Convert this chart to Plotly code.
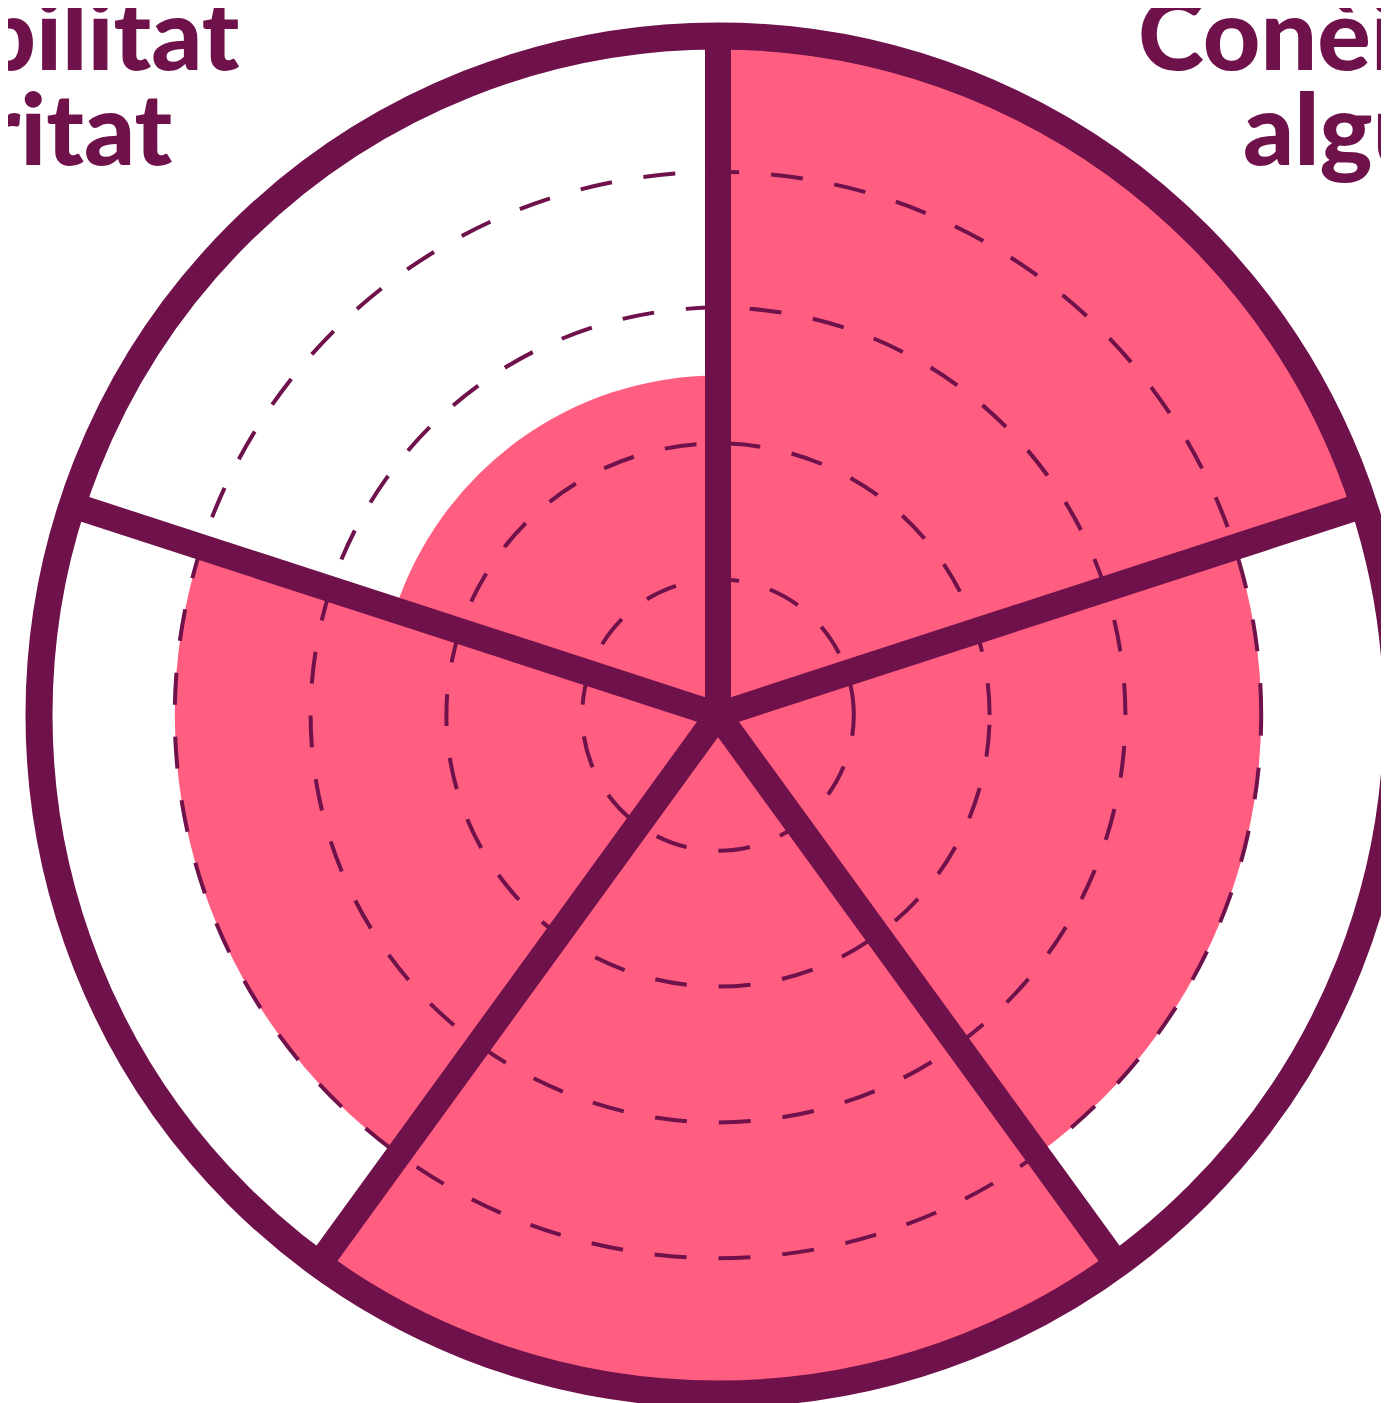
import plotly.graph_objects as go

# ---- data ----
categories = ["Conèixer algú", "Categoria 2", "Categoria 3", "Categoria 4", "Credibilitat i autoritat"]
theta_deg = [36, 108, 180, 252, 324]          # sector centres (clockwise from top)
values = [5, 4, 5, 4, 2.5]
sector_width = [72, 72, 72, 72, 72]
grid_levels = [1, 2, 3, 4]
sector_bounds = [0, 72, 144, 216, 288]
r_max = 5
label_lines = {"Conèixer algú": ["Conèixer", "algú"],
               "Credibilitat i autoritat": ["Credibilitat", "i autoritat"]}

PINK = "#ff5e81"
PURPLE = "#6f114a"

W, H = 1389, 1403
cx, cy, R = 710, 707, 679

fig = go.Figure()
fig.add_trace(go.Barpolar(
    r=values, theta=theta_deg, width=sector_width,
    marker=dict(color=PINK, line=dict(width=0)),
    text=categories, hoverinfo="text+r", subplot="polar",
))
# invisible trace so the overlay subplot (grid + outline) is created
fig.add_trace(go.Scatterpolar(
    r=[0], theta=[0], mode="markers", marker=dict(opacity=0),
    hoverinfo="skip", showlegend=False, subplot="polar2",
))

dom_x = [(cx - R) / W, min(1, (cx + R) / W)]
dom_y = [(H - cy - R) / H, (H - cy + R) / H]

common_radial = dict(range=[0, r_max], showticklabels=False, ticks="", showline=False)
fig.update_layout(
    width=W, height=H,
    margin=dict(l=0, r=0, t=0, b=0),
    paper_bgcolor="white",
    showlegend=False,
    polar=dict(
        domain=dict(x=dom_x, y=dom_y),
        bgcolor="white",
        bargap=0,
        radialaxis=dict(**common_radial, showgrid=False),
        angularaxis=dict(type="linear", rotation=90, direction="clockwise",
                         showgrid=False, showline=False, showticklabels=False, ticks=""),
    ),
    polar2=dict(
        domain=dict(x=dom_x, y=dom_y),
        bgcolor="rgba(0,0,0,0)",
        radialaxis=dict(**common_radial, showgrid=True, tickvals=grid_levels,
                        gridcolor=PURPLE, gridwidth=3.5, griddash="32px,32px"),
        angularaxis=dict(type="linear", rotation=90, direction="clockwise",
                         tickvals=sector_bounds, showticklabels=False, ticks="",
                         showgrid=True, gridcolor=PURPLE, gridwidth=26,
                         showline=True, linecolor=PURPLE, linewidth=27),
    ),
)

# category labels (two tightly-spaced lines each)
label_font = dict(family="Lato", size=100, color=PURPLE, weight=900)
label_pos = {
    "Conèixer algú": [(1128, 23, "left"), (1233, 118, "left")],
    "Credibilitat i autoritat": [(234, 23, "right"), (167, 118, "right")],
}
for cat in categories:
    if cat not in label_pos:
        continue
    for line, (x, y, anc) in zip(label_lines[cat], label_pos[cat]):
        fig.add_annotation(text=line, x=x / W, y=1 - y / H, xref="paper", yref="paper",
                           xanchor=anc, yanchor="middle", showarrow=False, font=label_font)

fig.write_html("out.html")
